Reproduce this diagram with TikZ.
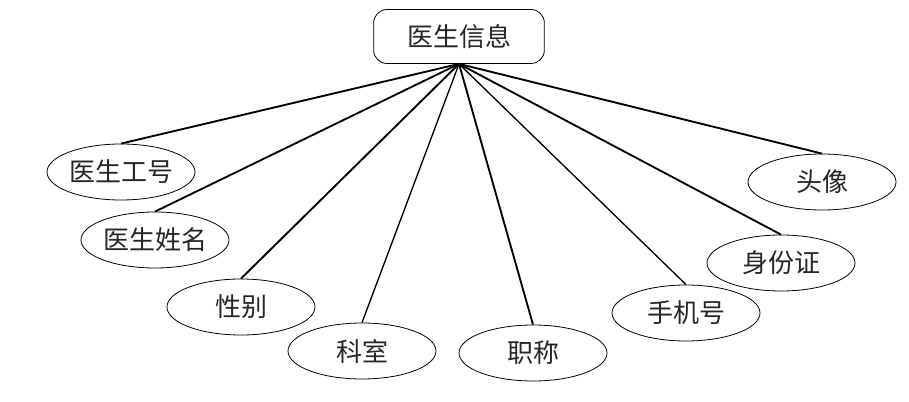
\documentclass[tikz,border=0pt]{standalone}
\usepackage{fontspec}
\setmainfont{Noto Sans CJK SC}
\usetikzlibrary{shapes.geometric}
\tikzset{
  attr/.style={ellipse,draw=black,line width=0.6pt,minimum width=111pt,minimum height=42pt,inner sep=0pt,font=\fontsize{19.5}{21}\selectfont,text=black!85},
  entity/.style={rectangle,rounded corners=10pt,draw=black,line width=0.6pt,minimum width=128pt,minimum height=40.5pt,inner sep=0pt,font=\fontsize{19.5}{21}\selectfont,text=black!85},
  link/.style={line width=1.4pt},
  thinlink/.style={line width=1pt}
}
\begin{document}
\begin{tikzpicture}[x=0.75pt,y=-0.75pt]
\useasboundingbox (0,0) rectangle (909,402);
\node[entity] (top) at (459,36.5) {医生信息};
\node[attr] (a1) at (121,172) {医生工号};
\node[attr] (a2) at (155,240) {医生姓名};
\node[attr] (a3) at (241,307) {性别};
\node[attr] (a4) at (362,351) {科室};
\node[attr] (a5) at (533,353) {职称};
\node[attr] (a6) at (686,313) {手机号};
\node[attr] (a7) at (781,263) {身份证};
\node[attr] (a8) at (822,182) {头像};
\draw[link] (top.south) -- (a1.north);
\draw[link] (top.south) -- (a2.north);
\draw[link] (top.south) -- (a3.north);
\draw[thinlink] (top.south) -- (a4.north);
\draw[link] (top.south) -- (a5.north);
\draw[thinlink] (top.south) -- (a6.north);
\draw[link] (top.south) -- (a7.north);
\draw[link] (top.south) -- (a8.north);
\end{tikzpicture}
\end{document}
